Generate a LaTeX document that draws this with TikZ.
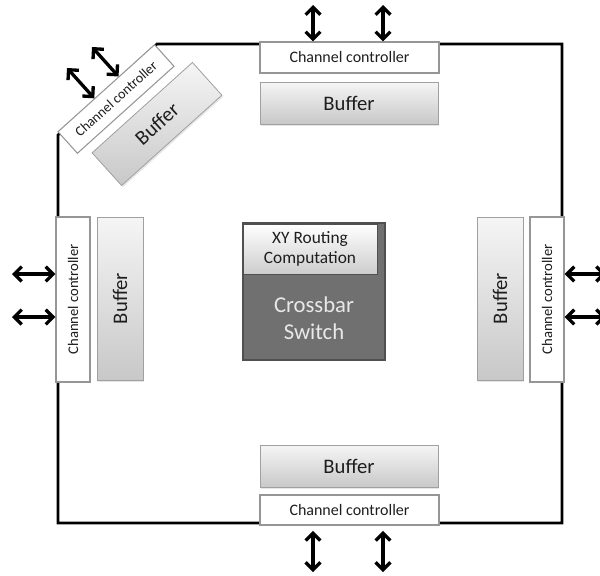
\documentclass[tikz,border=0pt]{standalone}
\usepackage{fontspec}
\setmainfont{Carlito}
\usetikzlibrary{arrows.meta,calc,shadows}

\definecolor{boxline}{RGB}{150,150,150}
\definecolor{bufferlight}{RGB}{245,245,245}
\definecolor{bufferdark}{RGB}{200,200,200}
\definecolor{xbarfill}{RGB}{112,112,112}
\definecolor{xbarline}{RGB}{80,80,80}
\definecolor{xbartext}{RGB}{232,232,232}
\definecolor{labeltext}{RGB}{30,30,30}

\begin{document}
\begin{tikzpicture}[x=0.75pt,y=0.75pt,yscale=-1,xscale=1,
  ctrl/.style={draw=boxline,fill=white,line width=0.8pt,inner sep=0pt,text=labeltext,font=\fontsize{12}{12}\selectfont},
  buffer/.style={draw=boxline!90,line width=0.6pt,top color=bufferlight,bottom color=bufferdark,inner sep=0pt,text=labeltext,font=\fontsize{15.5}{15.5}\selectfont,drop shadow={opacity=0.2,shadow xshift=1pt,shadow yshift=-1.2pt}},
  biarrow/.style={line width=2.5pt,{Straight Barb[length=5.5pt,width=11pt]}-{Straight Barb[length=5.5pt,width=11pt]}}]
\useasboundingbox (0,0) rectangle (600,575);

%Shape: Router frame
\draw [line width=2pt,line join=miter] (157,44) -- (562,44) -- (562,523) -- (58,523) -- (58,135) -- cycle ;

%Shape: Channel controllers
\node [ctrl,minimum width=134.25pt,minimum height=23.25pt] (tcc) at (349.5,57.5) {Channel controller};
\node [ctrl,minimum width=134.25pt,minimum height=22.5pt] (bcc) at (349.5,510) {Channel controller};
\node [ctrl,minimum width=123.75pt,minimum height=25.5pt,rotate=90,font=\fontsize{11}{11}\selectfont] (lcc) at (73,299.5) {Channel controller};
\node [ctrl,minimum width=123.75pt,minimum height=25.5pt,rotate=90,font=\fontsize{11}{11}\selectfont] (rcc) at (547,299.5) {Channel controller};
\node [ctrl,minimum width=97.5pt,minimum height=21.75pt,rotate=42,font=\fontsize{10.5}{10.5}\selectfont] (dcc) at (116,99) {Channel controller};

%Shape: Buffers
\node [buffer,minimum width=133.5pt,minimum height=31.5pt] (tbuf) at (349,103) {Buffer};
\node [buffer,minimum width=133.5pt,minimum height=31.5pt] (bbuf) at (349,466.5) {Buffer};
\node [buffer,minimum width=122.25pt,minimum height=34.5pt,rotate=90] (lbuf) at (120,298.5) {Buffer};
\node [buffer,minimum width=122.25pt,minimum height=34.5pt,rotate=90] (rbuf) at (500,298.5) {Buffer};
\node [buffer,minimum width=101.25pt,minimum height=33pt,rotate=42] (dbuf) at (157,124) {Buffer};

%Shape: Crossbar and routing unit
\node [draw=xbarline,fill=xbarfill,line width=0.8pt,minimum width=106.5pt,minimum height=102.75pt,drop shadow={opacity=0.15,shadow xshift=1pt,shadow yshift=-1pt}] (xbar) at (314,291.5) {};
\node [draw=xbarline,line width=0.6pt,top color=white,bottom color=bufferdark!90,minimum width=100.5pt,minimum height=37.5pt,inner sep=0pt,align=center,text=labeltext,font=\fontsize{13}{15.5}\selectfont] (xy) at (310,249) {XY Routing\\Computation};
% Text Node
\node [align=center,text=xbartext,font=\fontsize{17}{20}\selectfont] (xbarlbl) at (314,318) {Crossbar\\Switch};

%Links
\coordinate (ta1) at (313,5);
\coordinate (ta2) at (383,5);
\coordinate (ba1) at (313,572);
\coordinate (ba2) at (383,572);
\coordinate (la1) at (12,274);
\coordinate (la2) at (12,317);
\coordinate (ra1) at (606,274);
\coordinate (ra2) at (606,317);
\coordinate (da1) at (67,68);
\coordinate (da2) at (92,47);
\draw [biarrow] (ta1) -- (ta1 |- tcc.north) ;
\draw [biarrow] (ta2) -- (ta2 |- tcc.north) ;
\draw [biarrow,shorten >=4pt] (ba1) -- (ba1 |- bcc.south) ;
\draw [biarrow,shorten >=4pt] (ba2) -- (ba2 |- bcc.south) ;
\draw [biarrow] (la1) -- (la1 -| lcc.north) ;
\draw [biarrow] (la2) -- (la2 -| lcc.north) ;
\draw [biarrow] (ra1) -- (ra1 -| rcc.south) ;
\draw [biarrow] (ra2) -- (ra2 -| rcc.south) ;
\draw [biarrow] (da1) -- ($(dcc.north west)!(da1)!(dcc.north east)$) ;
\draw [biarrow] (da2) -- ($(dcc.north west)!(da2)!(dcc.north east)$) ;

\end{tikzpicture}
\end{document}
